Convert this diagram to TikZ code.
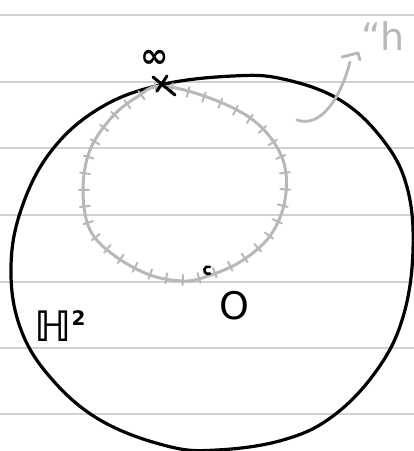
\documentclass[tikz,border=0pt]{standalone}
\usepackage{fontspec}
\newfontfamily\symfont{DejaVu Sans}
\usetikzlibrary{decorations.markings}
\begin{document}
\begin{tikzpicture}[x=1pt,y=-1pt,
  rule/.style={draw=black!18,line width=1.3pt},
  bigdisk/.style={draw=black,line width=3.2pt,line join=round},
  horo/.style={draw=black!28,line width=3pt,line join=round},
  ink/.style={draw=black,line width=3pt,line cap=round},
  greyink/.style={draw=black!28,line width=2.8pt,line cap=round},
  ticks/.style={postaction={decorate,decoration={markings,
     mark=between positions 0.01 and 0.99 step 0.027 with {\draw[black!28,line width=2pt,line cap=round] (0,-4) -- (0,6);}}}}
]
\useasboundingbox (0,0) rectangle (414,451);
% ruled lines
\foreach \yy in {15,82,148,215,282,348,414}
  \draw[rule] (0,\yy) -- (414,\yy);
% big disk
\draw[bigdisk] plot[smooth cycle,tension=0.65] coordinates {
 (233,76) (160,85) (100,108) (52,150) (22,207) (11,267) (20,327) (50,377)
 (100,420) (167,446) (217,450) (283,440) (333,416) (377,370) (403,317)
 (413,250) (407,187) (383,140) (340,100) (283,79)};
% horocycle
\draw[horo,ticks] plot[smooth cycle,tension=0.6] coordinates {
 (162,86) (215,100) (258,124) (283,160) (285,200) (270,236) (240,262)
 (205,277) (183,281) (150,275) (115,256) (90,230) (83,190) (90,150)
 (112,117) (137,97)};
% point at infinity
\coordinate (inf) at (163,86);
\draw[ink] (153,77) -- (175,95);
\draw[ink] (167,76) -- (157,91);
\node (infl) at (155,59) {\fontsize{34}{34}\selectfont\symfont\bfseries ∞};
% origin mark
\coordinate (o) at (207,277);
\draw[ink,line width=2.6pt] (210,273.5) arc (60:300:3.8);
\node (ol) at (234,306) {\fontsize{38}{38}\selectfont\symfont O};
% H^2
\node (h2) at (60,326) {\fontsize{42}{42}\selectfont\symfont\bfseries ℍ\raisebox{16pt}{\fontsize{20}{20}\selectfont 2}};
% annotation
\node[anchor=east,text=black!28,inner sep=0pt] (lab) at (405,36)
  {\fontsize{38}{38}\selectfont\symfont “h};
\coordinate (a0) at (297,120);
\coordinate (a1) at (350,62);
\draw[greyink] (a0) .. controls (320,128) and (340,100) .. (a1);
\draw[greyink] (342,57) -- (358,53) -- (360,60);
\end{tikzpicture}
\end{document}
